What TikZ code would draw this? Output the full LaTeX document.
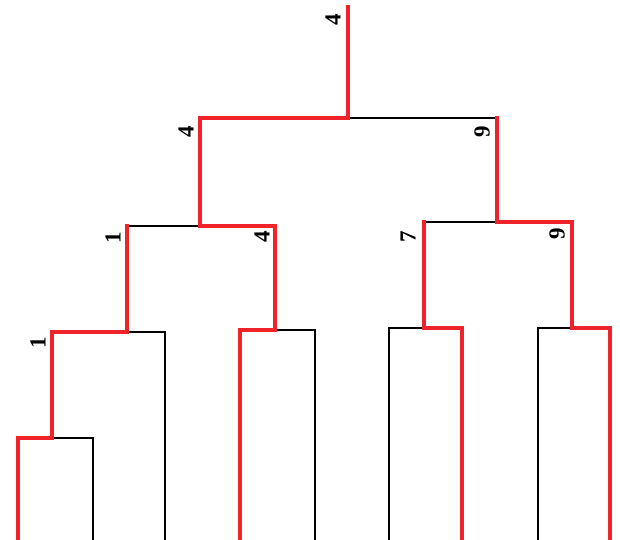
\documentclass[tikz,border=0pt]{standalone}
\usepackage{fontspec}
\setmainfont{Liberation Serif}
\definecolor{win}{RGB}{238,36,42}
\begin{document}
\begin{tikzpicture}[x=1pt,y=-1pt,
  lose/.style={draw=black,line width=1.5pt,line cap=rect},
  winl/.style={draw=win,line width=4.6pt,line cap=rect,line join=miter},
  score/.style={rotate=90,font=\bfseries\fontsize{23}{23}\selectfont,inner sep=0pt}]
\useasboundingbox (0,0) rectangle (620,539);
% junctions
\coordinate (top) at (348,7);
\coordinate (r) at (348,118);
\coordinate (a) at (200,118);
\coordinate (b) at (497,118);
\coordinate (a2) at (200,226);
\coordinate (al) at (127,226);
\coordinate (ar) at (275,226);
\coordinate (b2) at (497,222);
\coordinate (bl) at (424,222);
\coordinate (br) at (572,222);
\coordinate (al2) at (127,332);
\coordinate (all) at (52,332);
\coordinate (alr) at (165,332);
\coordinate (all2) at (52,438);
\coordinate (l1) at (18,438);
\coordinate (l2) at (93,438);
\coordinate (l1b) at (18,539);
\coordinate (l2b) at (93,539);
\coordinate (alrb) at (165,539);
\coordinate (ar2) at (275,330);
\coordinate (arl) at (240,330);
\coordinate (arr) at (315,330);
\coordinate (arlb) at (240,539);
\coordinate (arrb) at (315,539);
\coordinate (bl2) at (424,328);
\coordinate (bll) at (389,328);
\coordinate (blr) at (462,328);
\coordinate (bllb) at (389,539);
\coordinate (blrb) at (462,539);
\coordinate (br2) at (572,328);
\coordinate (brl) at (538,328);
\coordinate (brr) at (610,328);
\coordinate (brlb) at (538,539);
\coordinate (brrb) at (610,539);
% losing lines
\draw[lose] (r) -- (b);
\draw[lose] (al) -- (a2);
\draw[lose] (bl) -- (b2);
\draw[lose] (al2) -- (alr) -- (alrb);
\draw[lose] (all2) -- (l2) -- (l2b);
\draw[lose] (ar2) -- (arr) -- (arrb);
\draw[lose] (bl2) -- (bll) -- (bllb);
\draw[lose] (br2) -- (brl) -- (brlb);
% winning lines
\draw[winl] (top) -- (r) -- (a) -- (a2) -- (ar) -- (ar2) -- (arl) -- (arlb);
\draw[winl] (al) -- (al2) -- (all) -- (all2) -- (l1) -- (l1b);
\draw[winl] (b) -- (b2) -- (br) -- (br2) -- (brr) -- (brrb);
\draw[winl] (bl) -- (bl2) -- (blr) -- (blrb);
% scores
\node[score] (s0) at (333,20) {4};
\node[score] (s1) at (186,132) {4};
\node[score] (s2) at (482,132) {9};
\node[score] (s3) at (113,238) {1};
\node[score] (s4) at (262,237) {4};
\node[score] (s5) at (408,237) {7};
\node[score] (s6) at (557,234) {9};
\node[score] (s7) at (38,343) {1};
\end{tikzpicture}
\end{document}
